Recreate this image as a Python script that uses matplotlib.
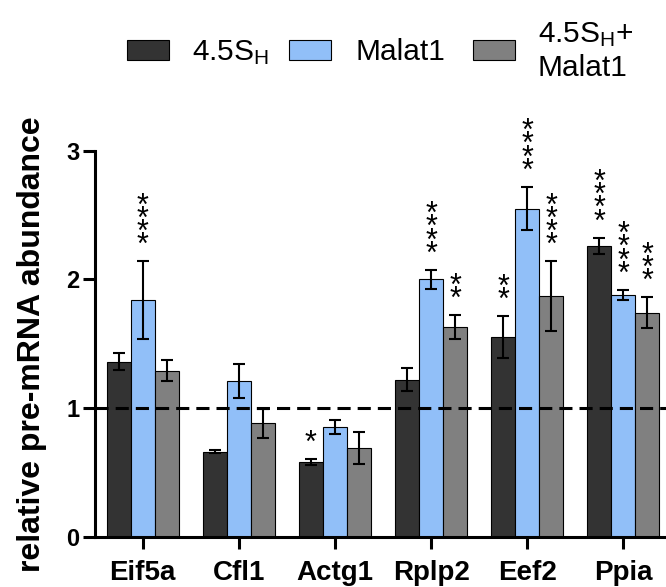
import numpy as np
import matplotlib
matplotlib.use('Agg')
import matplotlib.pyplot as plt
from matplotlib.patches import Rectangle

plt.rcParams['font.family'] = ['Liberation Sans', 'DejaVu Sans']
plt.rcParams['mathtext.fontset'] = 'custom'
plt.rcParams['mathtext.rm'] = 'Liberation Sans'
plt.rcParams['mathtext.it'] = 'Liberation Sans:italic'
plt.rcParams['mathtext.bf'] = 'Liberation Sans:bold'

# data
genes = ['Eif5a', 'Cfl1', 'Actg1', 'Rplp2', 'Eef2', 'Ppia']
s45 = [1.36, 0.66, 0.58, 1.22, 1.55, 2.26]
s45_err = [0.065, 0.01, 0.025, 0.09, 0.165, 0.065]
malat = [1.84, 1.21, 0.85, 2.00, 2.55, 1.88]
malat_err = [0.30, 0.135, 0.055, 0.075, 0.17, 0.04]
combo = [1.29, 0.88, 0.69, 1.63, 1.87, 1.74]
combo_err = [0.08, 0.115, 0.125, 0.09, 0.27, 0.12]

s45_stars = ['', '', '*', '', '**', '****']
malat_stars = ['****', '', '', '****', '****', '****']
combo_stars = ['', '', '', '**', '****', '***']

labels = ['4.5S$_\\mathrm{H}$', 'Malat1', '4.5S$_\\mathrm{H}$+\nMalat1']
colors = ['#333333', '#91bff8', '#808080']

W, H = 666, 587
fig = plt.figure(figsize=(W / 100, H / 100), dpi=100)
ax = fig.add_axes([0.1426, 0.0857, 0.857, 0.6576])

x = np.arange(len(genes))
w = 0.25
series = [(s45, s45_err, s45_stars), (malat, malat_err, malat_stars), (combo, combo_err, combo_stars)]
for i, (vals, errs, stars) in enumerate(series):
    xs = x + (i - 1) * w
    ax.bar(xs, vals, w, color=colors[i], edgecolor='black', linewidth=0.8,
           label=labels[i], zorder=2)
    ax.errorbar(xs, vals, yerr=errs, fmt='none', ecolor='black', elinewidth=1.5,
                capsize=4.5, capthick=1.5, zorder=3)
    for xi, v, e, s in zip(xs, vals, errs, stars):
        if s:
            # stars stacked vertically above the error bar
            ax.annotate('\n'.join(s), xy=(xi, v + e), xytext=(0, 0),
                        textcoords='offset points', ha='center', va='bottom',
                        fontsize=22, linespacing=0.27)

ax.axhline(1, color='black', lw=2.2, linestyle=(0, (4.3, 2.3)), zorder=4)

ax.set_xlim(-0.496, 5.44)
ax.set_ylim(0, 3)
ax.set_yticks([0, 1, 2, 3])
ax.set_xticks(x)
ax.set_xticklabels(genes, fontsize=20, fontweight='bold')
for t in ax.get_yticklabels():
    t.set_fontsize(17)
    t.set_fontweight('bold')
ax.spines['top'].set_visible(False)
ax.spines['right'].set_visible(False)
ax.spines['left'].set_linewidth(2.2)
ax.spines['bottom'].set_linewidth(2.2)
ax.tick_params(axis='y', length=9, width=2.2, pad=2)
ax.tick_params(axis='x', length=8.5, width=2.2, pad=8)
ax.set_ylabel('relative pre-mRNA abundance', fontsize=23, fontweight='bold', labelpad=14)

# legend row across the top (pixel positions from the reference)
patch_x = [127, 289, 473]
text_x = [192, 355, 538]
for i in range(3):
    fig.add_artist(Rectangle((patch_x[i] / W, 1 - 60 / H), 42 / W, 20 / H,
                             transform=fig.transFigure, facecolor=colors[i],
                             edgecolor='black', linewidth=0.8))
    if '\n' in labels[i]:
        fig.text(text_x[i] / W, 1 - 51 / H, labels[i], fontsize=21.5,
                 ha='left', va='center', linespacing=1.25)
    else:
        fig.text(text_x[i] / W, 1 - 60 / H, labels[i], fontsize=21.5,
                 ha='left', va='baseline')

fig.savefig('out.png', dpi=100)
